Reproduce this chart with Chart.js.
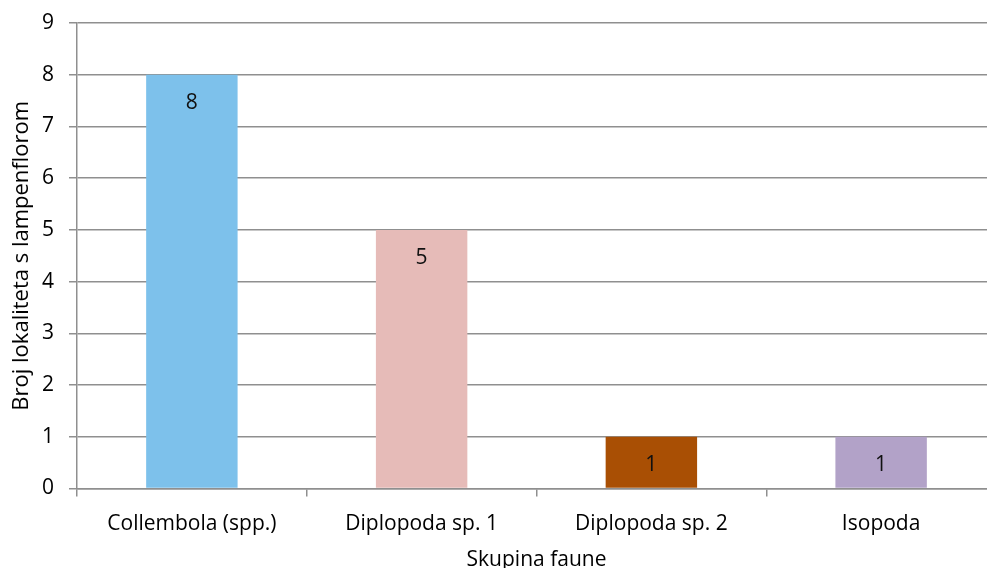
<!DOCTYPE html>
<html>
<head>
<meta charset="utf-8">
<script src="https://cdn.jsdelivr.net/npm/chart.js@4.4.0/dist/chart.umd.min.js"></script>
<style>
  html, body { margin: 0; padding: 0; background: #fff; overflow: hidden; }
  #wrap { width: 1000px; height: 568px; }
</style>
</head>
<body>
<div id="wrap"><canvas id="chart" width="1000" height="568"></canvas></div>
<script>
// podaci
const categories = ['Collembola (spp.)', 'Diplopoda sp. 1', 'Diplopoda sp. 2', 'Isopoda'];
const values = [8, 5, 1, 1];
const barColors = ['#7DC1EB', '#E6BBB8', '#A94F04', '#B2A2C8'];
const yTicks = [0, 1, 2, 3, 4, 5, 6, 7, 8, 9];

const FONT = '"Open Sans", sans-serif';
const GRID = '#8f8f8f';

// natpisi vrijednosti unutar stupca
const valueLabels = {
    id: 'valueLabels',
    afterDatasetsDraw(chart) {
        const ctx = chart.ctx;
        const meta = chart.getDatasetMeta(0);
        ctx.save();
        ctx.font = '21px ' + FONT;
        ctx.fillStyle = '#111';
        ctx.textAlign = 'center';
        ctx.textBaseline = 'middle';
        meta.data.forEach((bar, i) => {
            ctx.fillText(String(values[i]), bar.x, bar.y + 28.5);
        });
        ctx.restore();
    }
};

new Chart(document.getElementById('chart'), {
    type: 'bar',
    data: {
        labels: categories,
        datasets: [{
            data: values,
            backgroundColor: barColors,
            borderWidth: 0,
            categoryPercentage: 1,
            barPercentage: 0.398
        }]
    },
    options: {
        responsive: false,
        animation: false,
        layout: { padding: { top: 23, right: 4, left: 0, bottom: 0 } },
        plugins: { legend: { display: false }, tooltip: { enabled: false } },
        scales: {
            x: {
                grid: {
                    offset: true,
                    drawOnChartArea: false,
                    drawTicks: true,
                    tickLength: 8,
                    color: GRID,
                    lineWidth: 1.5
                },
                border: { display: true, color: GRID, width: 1.5 },
                ticks: { color: '#000', font: { family: FONT, size: 21 }, padding: 15, maxRotation: 0 },
                title: {
                    display: true,
                    text: 'Skupina faune',
                    color: '#000',
                    font: { family: FONT, size: 21, lineHeight: 0.75 },
                    padding: 0
                },
                afterFit(scale) { scale.height = 79.5; }
            },
            y: {
                min: 0,
                max: 9,
                afterBuildTicks(scale) { scale.ticks = yTicks.map(v => ({ value: v })); },
                grid: {
                    color: GRID,
                    lineWidth: 1.5,
                    tickLength: 8
                },
                border: { display: true, color: GRID, width: 1.5 },
                ticks: { color: '#000', font: { family: FONT, size: 21 }, padding: 15 },
                title: {
                    display: true,
                    text: 'Broj lokaliteta s lampenflorom',
                    color: '#000',
                    font: { family: FONT, size: 22, lineHeight: 1.5 },
                    padding: { top: 5, bottom: 0 }
                },
                afterFit(scale) {
                    scale.width = 77;
                    scale.paddingTop = 0;
                    scale.paddingBottom = 0;
                }
            }
        }
    },
    plugins: [valueLabels]
});
</script>
</body>
</html>
